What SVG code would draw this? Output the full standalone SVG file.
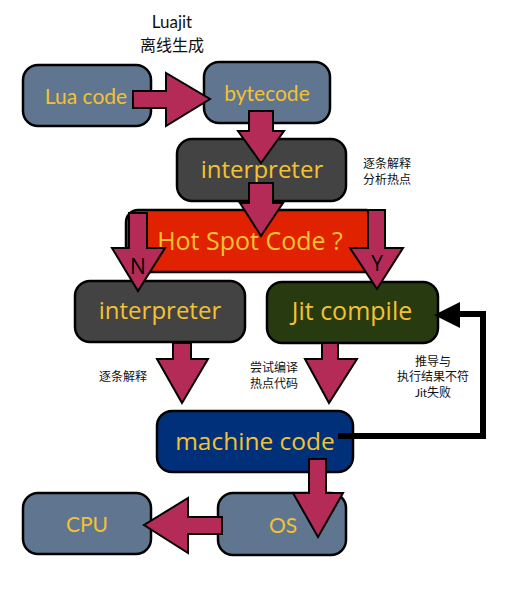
<svg xmlns="http://www.w3.org/2000/svg" width="524" height="589" viewBox="0 0 524 589">
<style>
.box{stroke:#000;stroke-width:2.5}
.slate{fill:#5f7590}
.dark{fill:#434343}
.green{fill:#283a10}
.navy{fill:#01307a}
.red{fill:#e02200}
.t{font-family:"Lato","Open Sans",sans-serif;fill:#f3c232;text-anchor:middle}
.s{font-family:"Open Sans","Noto Sans",sans-serif;fill:#f3c232;text-anchor:middle}
.lbl{font-family:"Lato","Noto Sans CJK SC",sans-serif;fill:#111;text-anchor:middle}
.yn{font-family:"Open Sans",sans-serif;fill:#000;text-anchor:middle;font-size:21px}
.arr{fill:#b52b58;stroke:#000;stroke-width:2;stroke-linejoin:miter}
</style>
<rect width="524" height="589" fill="#fff"/>
<g id="title">
<text class="lbl" x="172" y="28" font-size="17">Luajit</text>
<text class="lbl" x="172" y="51" font-size="16">离线生成</text>
</g>
<g id="lua-code">
<rect class="box slate" x="23" y="65" width="128" height="61" rx="15"/>
<text class="t" x="86" y="104" font-size="21">Lua code</text>
</g>
<g id="bytecode">
<rect class="box slate" x="204" y="62" width="126" height="61" rx="15"/>
<text class="t" x="267" y="101" font-size="21">bytecode</text>
</g>
<g id="interpreter-top">
<rect class="box dark" x="177" y="139" width="169" height="62" rx="15"/>
<text class="s" x="262" y="178" font-size="24">interpreter</text>
</g>
<g id="hotspot">
<rect class="box red" x="126" y="210" width="252" height="62" rx="12"/>
<text class="s" x="250" y="250" font-size="25">Hot Spot Code ?</text>
</g>
<g id="interpreter-n">
<rect class="box dark" x="75" y="281" width="170" height="61" rx="15"/>
<text class="s" x="160" y="319" font-size="24">interpreter</text>
</g>
<g id="jit-compile">
<rect class="box green" x="267" y="282" width="171" height="61" rx="15"/>
<text class="s" x="352" y="320" font-size="25">Jit compile</text>
</g>
<g id="machine-code">
<rect class="box navy" x="157" y="411" width="196" height="61" rx="15"/>
<text class="s" x="255" y="450" font-size="24.5">machine code</text>
</g>
<g id="cpu">
<rect class="box slate" x="23" y="493" width="128" height="61" rx="15"/>
<text class="t" x="87" y="532" font-size="21">CPU</text>
</g>
<g id="os">
<rect class="box slate" x="218" y="493" width="128" height="62" rx="15"/>
<text class="t" x="283" y="533" font-size="21">OS</text>
</g>
<g id="notes">
<text class="lbl" x="387" y="168" font-size="12">逐条解释</text>
<text class="lbl" x="387" y="184" font-size="12">分析热点</text>
<text class="lbl" x="123" y="381" font-size="12">逐条解释</text>
<text class="lbl" x="274" y="372" font-size="12">尝试编译</text>
<text class="lbl" x="274" y="388" font-size="12">热点代码</text>
<text class="lbl" x="433" y="366" font-size="12">推导与</text>
<text class="lbl" x="433" y="381" font-size="12">执行结果不符</text>
<text class="lbl" x="433" y="397" font-size="12">Jit失败</text>
</g>
<g id="connectors">
<polygon class="arr" points="133,91 166,91 166,73 210,99 166,126 166,108 133,108"/>
<polygon class="arr" points="249,111 273,111 273,131 284,131 261,163 238,131 249,131"/>
<polygon class="arr" points="249,183 273,183 273,203 283,203 261,236 240,203 249,203"/>
<polygon class="arr" points="129,213 147,213 147,248 165,248 138,291 112,248 129,248"/>
<polygon class="arr" points="368,210 385,210 385,248 403,248 377,289 350,248 368,248"/>
<polygon class="arr" points="173,343 191,343 191,359 208,359 182,403 157,359 173,359"/>
<polygon class="arr" points="322,343 338,343 338,359 357,359 329,403 305,359 322,359"/>
<polygon class="arr" points="309,459 326,459 326,493 343,493 318,537 293,493 309,493"/>
<polygon class="arr" points="222,517 188,517 188,498 144,525 188,553 188,534 222,534"/>
<polyline points="338,436 483,436 483,314 456,314" fill="none" stroke="#000" stroke-width="6"/>
<polygon points="434,315 460,302 460,328" fill="#000"/>
<text class="yn" x="138" y="274">N</text>
<text class="yn" x="377" y="271">Y</text>
</g>
</svg>
